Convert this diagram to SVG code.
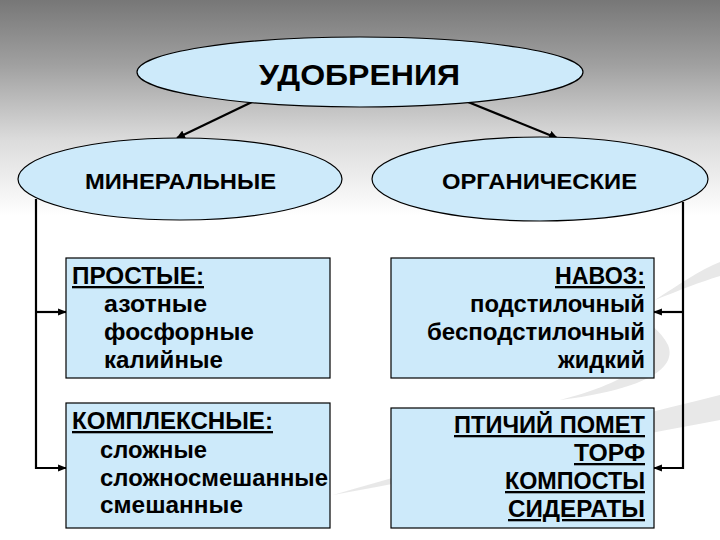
<svg xmlns="http://www.w3.org/2000/svg" width="720" height="540" viewBox="0 0 720 540">
<defs>
<linearGradient id="bg" x1="0" y1="0" x2="0" y2="1">
<stop offset="0" stop-color="#777777"/>
<stop offset="0.12" stop-color="#a0a0a0"/>
<stop offset="0.26" stop-color="#dcdcdc"/>
<stop offset="0.4" stop-color="#ffffff"/>
<stop offset="1" stop-color="#ffffff"/>
</linearGradient>
<marker id="ah" viewBox="0 0 10 10" refX="9" refY="5" markerWidth="4" markerHeight="4" orient="auto" markerUnits="strokeWidth">
<path d="M0,0 L10,5 L0,10 z" fill="#000"/>
</marker>
<marker id="ah2" viewBox="0 0 10 10" refX="9" refY="5" markerWidth="4" markerHeight="4" orient="auto" markerUnits="strokeWidth">
<path d="M0,1 L10,5 L0,9 z" fill="#000"/>
</marker>
</defs>
<style>
.node{fill:#cdeafa;stroke:#000;stroke-width:1.2}
.t{font-family:"Liberation Sans",Arial,sans-serif;font-weight:bold;fill:#000}
.lbl{font-size:22px}
.bx{font-size:23px}
.u{text-decoration:underline}
.c{fill:none;stroke:#000;stroke-width:2.2}
</style>
<rect width="720" height="540" fill="url(#bg)"/>
<g id="swoosh" fill="#e4e4e4" opacity="0.85">
<path d="M333,495 C450,460 600,425 720,395 L720,420 C600,442 460,472 333,495 z"/>
<path d="M560,400 C620,385 665,360 650,330 C640,312 600,296 560,286 C610,300 655,318 668,345 C678,370 640,390 560,400 z"/>
<path d="M655,300 C680,290 700,282 720,276 L720,262 C700,270 680,284 655,300 z"/>
</g>
<g id="connectors">
<line class="c" x1="252" y1="102" x2="177" y2="138" marker-end="url(#ah)"/>
<line class="c" x1="468" y1="102" x2="557" y2="138" marker-end="url(#ah)"/>
<polyline class="c" points="36,199 36,468 66,468" marker-end="url(#ah2)"/>
<line class="c" x1="36" y1="312" x2="66" y2="312" marker-end="url(#ah2)"/>
<polyline class="c" points="683,202 683,468 654,468" marker-end="url(#ah2)"/>
<line class="c" x1="683" y1="312" x2="654" y2="312" marker-end="url(#ah2)"/>
</g>
<g id="udobreniya">
<ellipse class="node" cx="360" cy="72" rx="223" ry="35"/>
<text class="t" x="259" y="85" font-size="30" textLength="201" lengthAdjust="spacingAndGlyphs">УДОБРЕНИЯ</text>
</g>
<g id="mineralnye">
<ellipse class="node" cx="180" cy="179" rx="162" ry="41"/>
<text class="t lbl" x="85" y="189" textLength="191" lengthAdjust="spacingAndGlyphs">МИНЕРАЛЬНЫЕ</text>
</g>
<g id="organicheskie">
<ellipse class="node" cx="540" cy="179" rx="168" ry="42"/>
<text class="t lbl" x="442" y="189" textLength="195" lengthAdjust="spacingAndGlyphs">ОРГАНИЧЕСКИЕ</text>
</g>
<g id="prostye">
<rect class="node" x="66" y="258" width="264" height="120"/>
<text class="t bx u" x="72" y="284" textLength="132" lengthAdjust="spacingAndGlyphs">ПРОСТЫЕ:</text>
<text class="t bx" x="104" y="312" textLength="103" lengthAdjust="spacingAndGlyphs">азотные</text>
<text class="t bx" x="104" y="340" textLength="150" lengthAdjust="spacingAndGlyphs">фосфорные</text>
<text class="t bx" x="104" y="368" textLength="119" lengthAdjust="spacingAndGlyphs">калийные</text>
</g>
<g id="kompleksnye">
<rect class="node" x="66" y="403" width="264" height="125"/>
<text class="t bx u" x="72" y="429" textLength="201" lengthAdjust="spacingAndGlyphs">КОМПЛЕКСНЫЕ:</text>
<text class="t bx" x="100" y="458" textLength="107" lengthAdjust="spacingAndGlyphs">сложные</text>
<text class="t bx" x="100" y="486" textLength="228" lengthAdjust="spacingAndGlyphs">сложносмешанные</text>
<text class="t bx" x="100" y="513" textLength="143" lengthAdjust="spacingAndGlyphs">смешанные</text>
</g>
<g id="navoz">
<rect class="node" x="391" y="258" width="263" height="120"/>
<text class="t bx u" x="555" y="284" textLength="90" lengthAdjust="spacingAndGlyphs">НАВОЗ:</text>
<text class="t bx" x="470" y="312" textLength="175" lengthAdjust="spacingAndGlyphs">подстилочный</text>
<text class="t bx" x="427" y="340" textLength="218" lengthAdjust="spacingAndGlyphs">бесподстилочный</text>
<text class="t bx" x="558" y="368" textLength="87" lengthAdjust="spacingAndGlyphs">жидкий</text>
</g>
<g id="ptichiy">
<rect class="node" x="391" y="408" width="263" height="120"/>
<text class="t bx u" x="454" y="433" textLength="191" lengthAdjust="spacingAndGlyphs">ПТИЧИЙ ПОМЕТ</text>
<text class="t bx u" x="574" y="461" textLength="71" lengthAdjust="spacingAndGlyphs">ТОРФ</text>
<text class="t bx u" x="505" y="489" textLength="140" lengthAdjust="spacingAndGlyphs">КОМПОСТЫ</text>
<text class="t bx u" x="508" y="517" textLength="137" lengthAdjust="spacingAndGlyphs">СИДЕРАТЫ</text>
</g>
</svg>
